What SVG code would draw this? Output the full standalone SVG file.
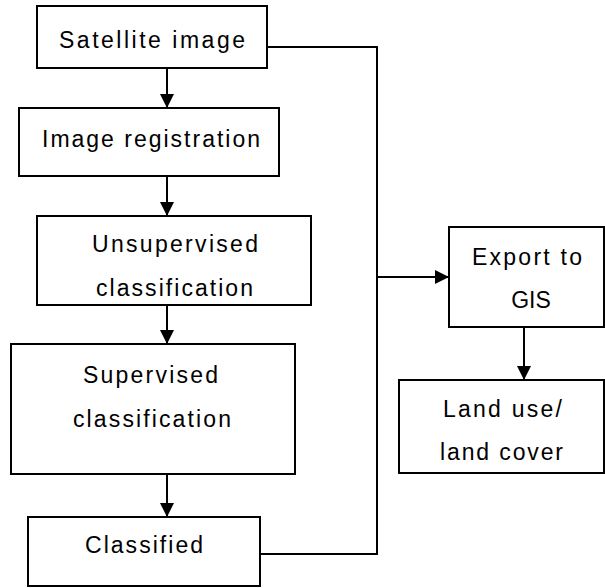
<svg xmlns="http://www.w3.org/2000/svg" width="605" height="588" viewBox="0 0 605 588">
<style>
.box{fill:#fff;stroke:#000;stroke-width:2}
.ln{fill:none;stroke:#000;stroke-width:2}
text{font-family:"Liberation Sans",Arial,sans-serif;font-size:23px;fill:#000}
</style>
<defs>
<marker id="ah" viewBox="0 0 14 14" markerWidth="14" markerHeight="14" refX="14" refY="7" orient="auto" markerUnits="userSpaceOnUse">
<path d="M0,0 L14,7 L0,14 Z" fill="#000"/>
</marker>
</defs>
<rect width="605" height="588" fill="#fff"/>
<g id="connectors">
<line class="ln" x1="167" y1="68" x2="167" y2="108" marker-end="url(#ah)"/>
<line class="ln" x1="167" y1="176" x2="167" y2="216" marker-end="url(#ah)"/>
<line class="ln" x1="167" y1="305" x2="167" y2="344" marker-end="url(#ah)"/>
<line class="ln" x1="167" y1="474" x2="167" y2="517" marker-end="url(#ah)"/>
<polyline class="ln" points="267,47 377,47 377,554 260,554"/>
<line class="ln" x1="377" y1="277" x2="449" y2="277" marker-end="url(#ah)"/>
<line class="ln" x1="524" y1="327" x2="524" y2="380" marker-end="url(#ah)"/>
</g>
<g id="satellite">
<rect class="box" x="37" y="6" width="230" height="62"/>
<text x="59" y="48" textLength="186" lengthAdjust="spacing">Satellite image</text>
</g>
<g id="registration">
<rect class="box" x="19" y="108" width="260" height="68"/>
<text x="42" y="147" textLength="218" lengthAdjust="spacing">Image registration</text>
</g>
<g id="unsupervised">
<rect class="box" x="37" y="216" width="274" height="89"/>
<text x="92" y="252" textLength="166" lengthAdjust="spacing">Unsupervised</text>
<text x="96" y="296" textLength="157" lengthAdjust="spacing">classification</text>
</g>
<g id="supervised">
<rect class="box" x="11" y="344" width="284" height="130"/>
<text x="83" y="383" textLength="135" lengthAdjust="spacing">Supervised</text>
<text x="73" y="427" textLength="158" lengthAdjust="spacing">classification</text>
</g>
<g id="classified">
<rect class="box" x="28" y="517" width="232" height="69"/>
<text x="85" y="553" textLength="118" lengthAdjust="spacing">Classified</text>
</g>
<g id="export">
<rect class="box" x="449" y="227" width="155" height="100"/>
<text x="472" y="265" textLength="110" lengthAdjust="spacing">Export to</text>
<text x="531" y="308" text-anchor="middle">GIS</text>
</g>
<g id="landuse">
<rect class="box" x="399" y="380" width="205" height="93"/>
<text x="443" y="417" textLength="119" lengthAdjust="spacing">Land use/</text>
<text x="440" y="460" textLength="123" lengthAdjust="spacing">land cover</text>
</g>
</svg>
